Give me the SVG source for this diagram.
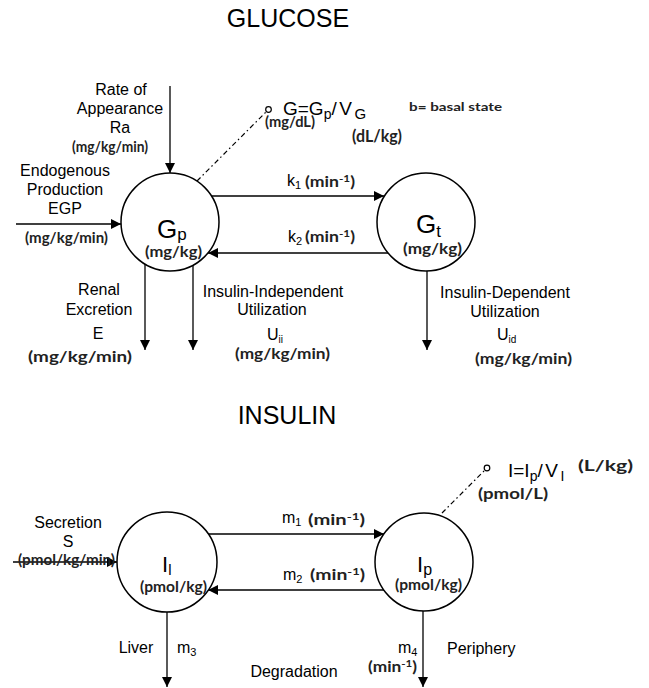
<svg xmlns="http://www.w3.org/2000/svg" width="649" height="688" viewBox="0 0 649 688">
<defs>
<marker id="ah" viewBox="0 0 10 10" refX="10" refY="5" markerWidth="10" markerHeight="10" markerUnits="userSpaceOnUse" orient="auto">
<path d="M0,0 L10,5 L0,10 z" fill="#000"/>
</marker>
<style>
.t{font-family:"Liberation Sans",Arial,sans-serif;font-size:16px;fill:#000}
.c{text-anchor:middle}
.ti{font-family:"Liberation Sans",Arial,sans-serif;font-size:25px;fill:#000;text-anchor:middle}
.h{font-family:"Lato","Noto Sans",sans-serif;font-weight:700;font-size:15px;fill:#222}
.node{fill:#fff;stroke:#000;stroke-width:1.5}
.ln{stroke:#000;stroke-width:1.3;fill:none}
.arr{stroke:#000;stroke-width:1.3;fill:none;marker-end:url(#ah)}
.dd{stroke:#000;stroke-width:1.2;fill:none;stroke-dasharray:5 3 1.5 3}
.dot{fill:#fff;stroke:#000;stroke-width:1.2}
.sp{letter-spacing:2.5px}
</style>
</defs>
<rect width="649" height="688" fill="#fff"/>

<text class="ti" x="288" y="27">GLUCOSE</text>
<text class="ti" x="287" y="424">INSULIN</text>

<g id="connectors">
<line class="arr" x1="170" y1="86" x2="170" y2="173"/>
<line class="arr" x1="16" y1="224" x2="121" y2="224"/>
<line class="arr" x1="211" y1="196" x2="384" y2="196"/>
<line class="arr" x1="388" y1="253" x2="208" y2="253"/>
<line class="arr" x1="145" y1="264" x2="145" y2="350"/>
<line class="arr" x1="193" y1="265" x2="193" y2="350"/>
<line class="arr" x1="427" y1="271" x2="427" y2="350"/>
<line class="dd" x1="197" y1="181" x2="266" y2="112"/>
<line class="arr" x1="13" y1="562" x2="117" y2="562"/>
<line class="arr" x1="208" y1="534" x2="384" y2="534"/>
<line class="arr" x1="384" y1="590" x2="208" y2="590"/>
<line class="arr" x1="167" y1="612" x2="167" y2="687"/>
<line class="arr" x1="423" y1="611" x2="423" y2="687"/>
<line class="dd" x1="442" y1="513" x2="485" y2="470"/>
</g>

<g id="node-Gp">
<circle class="node" cx="170" cy="222" r="49"/>
<text class="t" x="157" y="238" style="font-size:26px">G<tspan style="font-size:17px" dy="2">p</tspan></text>
<text class="h" x="145" y="257" textLength="57" lengthAdjust="spacingAndGlyphs">(mg/kg)</text>
</g>

<g id="node-Gt">
<circle class="node" cx="426" cy="222" r="49"/>
<text class="t" x="416" y="233" style="font-size:26px">G<tspan style="font-size:17px" dy="4">t</tspan></text>
<text class="h" x="403" y="254" textLength="59" lengthAdjust="spacingAndGlyphs">(mg/kg)</text>
</g>

<g id="node-G">
<circle class="dot" cx="268.5" cy="109.5" r="2.8"/>
<text class="t" x="283" y="115" style="font-size:19px">G=G<tspan dy="4" style="font-size:14px">p</tspan><tspan class="sp" dy="-4">/V</tspan><tspan dy="4" style="font-size:15px">G</tspan></text>
<text class="h" x="265" y="127" textLength="50" lengthAdjust="spacingAndGlyphs">(mg/dL)</text>
<text class="h" x="352" y="142" textLength="50" lengthAdjust="spacingAndGlyphs" style="font-size:17px">(dL/kg)</text>
<text class="h" x="409" y="111" textLength="93" lengthAdjust="spacingAndGlyphs" style="font-size:12px">b= basal state</text>
</g>

<g id="label-Ra">
<text class="t c" x="121" y="95">Rate of</text>
<text class="t c" x="120" y="114">Appearance</text>
<text class="t c" x="120" y="133">Ra</text>
<text class="h" x="72" y="152" textLength="76" lengthAdjust="spacingAndGlyphs">(mg/kg/min)</text>
</g>

<g id="label-EGP">
<text class="t c" x="65" y="176">Endogenous</text>
<text class="t c" x="65" y="195">Production</text>
<text class="t c" x="65" y="214">EGP</text>
<text class="h" x="25" y="243" textLength="83" lengthAdjust="spacingAndGlyphs">(mg/kg/min)</text>
</g>

<g id="label-k">
<text class="t" x="287" y="186">k<tspan style="font-size:11px" dy="3">1</tspan></text>
<text class="h" x="305" y="187" textLength="50" lengthAdjust="spacingAndGlyphs">(min<tspan dy="-5" style="font-size:10px">-1</tspan><tspan dy="5">)</tspan></text>
<text class="t" x="288" y="242">k<tspan style="font-size:11px" dy="3">2</tspan></text>
<text class="h" x="305" y="242" textLength="50" lengthAdjust="spacingAndGlyphs">(min<tspan dy="-5" style="font-size:10px">-1</tspan><tspan dy="5">)</tspan></text>
</g>

<g id="label-E">
<text class="t c" x="99" y="295">Renal</text>
<text class="t c" x="99" y="315">Excretion</text>
<text class="t c" x="98" y="339">E</text>
<text class="h" x="28" y="362" textLength="104" lengthAdjust="spacingAndGlyphs">(mg/kg/min)</text>
</g>

<g id="label-Uii">
<text class="t c" x="273" y="297">Insulin-Independent</text>
<text class="t c" x="272" y="315">Utilization</text>
<text class="t" x="267" y="340">U<tspan style="font-size:10px" dy="3">ii</tspan></text>
<text class="h" x="235" y="359" textLength="95" lengthAdjust="spacingAndGlyphs">(mg/kg/min)</text>
</g>

<g id="label-Uid">
<text class="t c" x="505" y="298">Insulin-Dependent</text>
<text class="t c" x="505" y="317">Utilization</text>
<text class="t" x="497" y="340">U<tspan style="font-size:10px" dy="3">id</tspan></text>
<text class="h" x="475" y="364" textLength="97" lengthAdjust="spacingAndGlyphs">(mg/kg/min)</text>
</g>

<g id="node-Il">
<circle class="node" cx="167" cy="562" r="50"/>
<text class="t" x="162" y="572" style="font-size:22px">I<tspan style="font-size:15px" dy="3">l</tspan></text>
<text class="h" x="140" y="592" textLength="67" lengthAdjust="spacingAndGlyphs">(pmol/kg)</text>
</g>

<g id="node-Ip">
<circle class="node" cx="424" cy="562" r="49"/>
<text class="t" x="417" y="572" style="font-size:22px">I<tspan style="font-size:16px" dy="3">p</tspan></text>
<text class="h" x="395" y="590" textLength="67" lengthAdjust="spacingAndGlyphs">(pmol/kg)</text>
</g>

<g id="node-I">
<circle class="dot" cx="487" cy="468" r="2.8"/>
<text class="t" x="508" y="477" style="font-size:19px">I=I<tspan dy="4" style="font-size:14px">p</tspan><tspan class="sp" dy="-4">/V</tspan><tspan dy="4" style="font-size:14px">I</tspan></text>
<text class="h" x="478" y="499" textLength="70" lengthAdjust="spacingAndGlyphs">(pmol/L)</text>
<text class="h" x="578" y="471" textLength="55" lengthAdjust="spacingAndGlyphs">(L/kg)</text>
</g>

<g id="label-S">
<text class="t c" x="68" y="528">Secretion</text>
<text class="t c" x="68" y="547">S</text>
<text class="h" x="18" y="565" textLength="97" lengthAdjust="spacingAndGlyphs">(pmol/kg/min)</text>
</g>

<g id="label-m">
<text class="t" x="282" y="523">m<tspan style="font-size:11px" dy="3">1</tspan></text>
<text class="h" x="308" y="525" textLength="57" lengthAdjust="spacingAndGlyphs">(min<tspan dy="-5" style="font-size:10px">-1</tspan><tspan dy="5">)</tspan></text>
<text class="t" x="283" y="580">m<tspan style="font-size:11px" dy="3">2</tspan></text>
<text class="h" x="310" y="580" textLength="55" lengthAdjust="spacingAndGlyphs">(min<tspan dy="-5" style="font-size:10px">-1</tspan><tspan dy="5">)</tspan></text>
</g>

<g id="label-degradation">
<text class="t c" x="136" y="653">Liver</text>
<text class="t" x="177" y="653">m<tspan style="font-size:11px" dy="3">3</tspan></text>
<text class="t c" x="294" y="677">Degradation</text>
<text class="t" x="398" y="653">m<tspan style="font-size:11px" dy="3">4</tspan></text>
<text class="h" x="368" y="672" textLength="49" lengthAdjust="spacingAndGlyphs">(min<tspan dy="-5" style="font-size:10px">-1</tspan><tspan dy="5">)</tspan></text>
<text class="t" x="447" y="654">Periphery</text>
</g>
</svg>
